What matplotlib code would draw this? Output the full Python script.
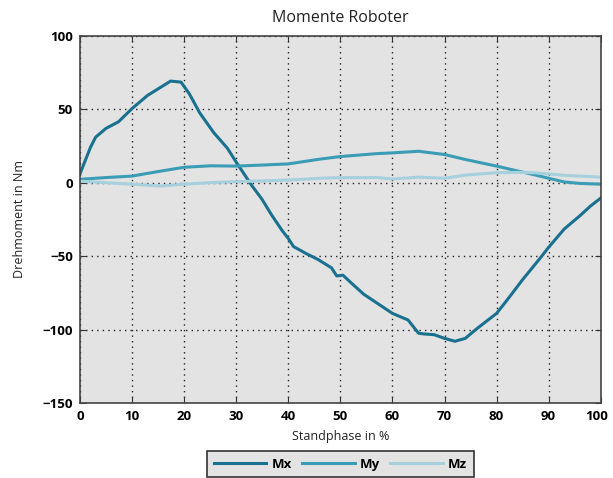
import matplotlib as mpl
from matplotlib import pyplot as plt
from matplotlib.transforms import ScaledTranslation
import numpy as np

mpl.rcParams["font.family"] = ["Open Sans", "DejaVu Sans"]

# Standphase in %
phase_x = [0, 2, 3, 5, 7.4, 10, 13, 15.5, 17.4, 19.4, 21, 23, 25.7, 28.3, 30, 33, 34.9, 36.8, 38.8, 40, 41,
           43.3, 45.8, 48.3, 49.3, 50.5, 52, 54.5, 60, 63, 65, 66, 68, 70, 72, 74, 76, 78, 80, 82,
           85, 88, 90, 93, 96, 98, 100]
mx = [6, 24, 31, 37, 41.5, 50.5, 59.5, 65, 69.2, 68.5, 60.5, 47.5, 34, 23.5, 14, -2, -11, -22, -32.5, -38,
      -43.5, -48, -52.5, -58, -63.5, -63, -68, -76, -89, -93.5, -102.5, -103, -103.5, -106, -108, -106,
      -100, -94.5, -89, -80, -66, -53, -44, -31.5, -22.5, -16, -10.5]

phase_yz = [0, 5, 10, 15.5, 20, 25, 30, 35, 40, 46, 50, 57, 60, 65, 70, 74, 80, 84, 87, 90, 93, 96, 100]
my = [2.3, 3.5, 4.5, 7.9, 10.5, 11.5, 11.3, 12, 12.8, 16, 17.8, 19.8, 20.3, 21.4, 19.2, 15.8, 11.3,
      8, 5.6, 3, 0.5, -0.5, -1]
mz = [1, 0, -1, -2.3, -1, 0, 0.7, 1.2, 1.8, 3, 3.4, 3.5, 2.5, 3.8, 3, 5.2, 6.8, 7, 6.8, 6,
      5, 4.5, 3.8]

fig = plt.figure(figsize=(6.13, 4.78), dpi=100)
ax = fig.add_axes([0.1305, 0.157, 0.8495, 0.768])
ax.set_facecolor("#e3e3e3")

ax.plot(phase_x, mx, color="#19718f", lw=2.2, label="Mx")
ax.plot(phase_yz, my, color="#3a9db5", lw=2.2, label="My")
ax.plot(phase_yz, mz, color="#a5d0dc", lw=2.2, label="Mz")

ax.set_xlim(0, 100)
ax.set_ylim(-150, 100)
ax.set_xticks(np.arange(0, 101, 10))
ax.set_yticks(np.arange(-150, 101, 50))
ax.tick_params(direction="in", length=4, color="#333333", top=True, right=True, pad=5)
for lbl in ax.get_xticklabels() + ax.get_yticklabels():
    lbl.set_fontweight("bold")
    lbl.set_fontsize(9.5)
# keep the last x label inside the figure
last = ax.get_xticklabels()[-1]
last.set_transform(last.get_transform() + ScaledTranslation(-3 / 72, 0, fig.dpi_scale_trans))
for sp in ax.spines.values():
    sp.set_color("#444444")
    sp.set_linewidth(1.2)
ax.grid(linestyle=(0, (1, 3)), color="#222222", linewidth=1.0)

ax.set_title("Momente Roboter", fontsize=11.5, pad=10, color="#222222")
ax.set_xlabel("Standphase in %", fontsize=9, labelpad=5, color="#222222")
ax.set_ylabel("Drehmoment in Nm", fontsize=9, labelpad=12, color="#222222")

leg = ax.legend(loc="upper center", bbox_to_anchor=(0.5, -0.113), ncol=3, fancybox=False,
                handlelength=4.0, handletextpad=0.4, columnspacing=0.75, borderpad=0.5,
                prop={"weight": "bold", "size": 9.5})
leg.get_frame().set_facecolor("#e3e3e3")
leg.get_frame().set_edgecolor("#333333")
leg.get_frame().set_linewidth(1.2)
leg.get_frame().set_alpha(1)

plt.savefig("out.png", dpi=100)
